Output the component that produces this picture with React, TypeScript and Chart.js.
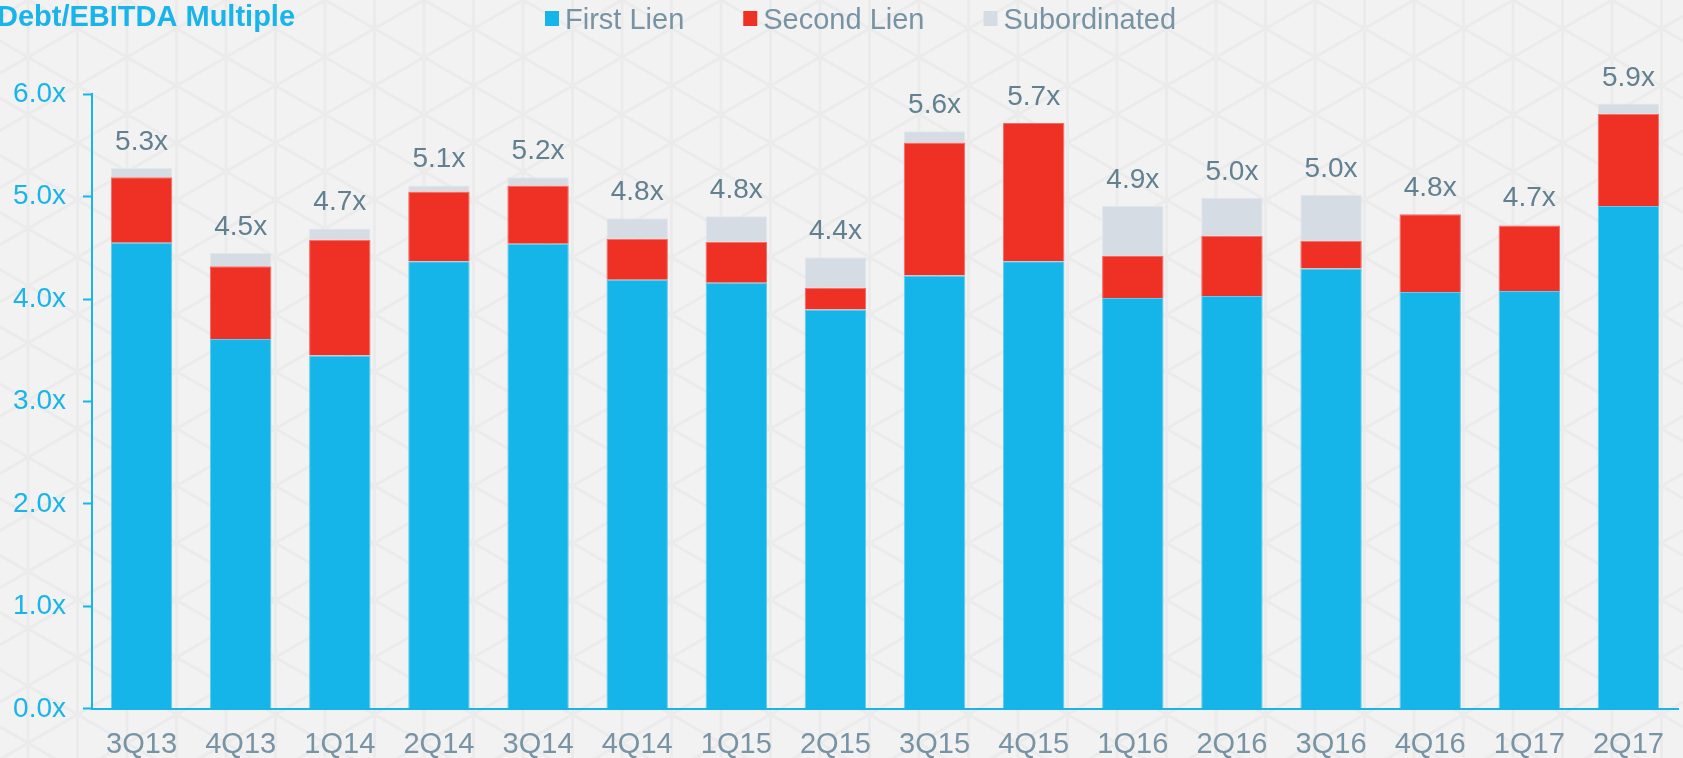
import { useEffect, useRef } from "react";
import { Chart, registerables } from "chart.js";

Chart.register(...registerables);

const categories = ["3Q13", "4Q13", "1Q14", "2Q14", "3Q14", "4Q14", "1Q15", "2Q15", "3Q15", "4Q15", "1Q16", "2Q16", "3Q16", "4Q16", "1Q17", "2Q17"];
const firstLien = [4.55, 3.61, 3.45, 4.37, 4.54, 4.19, 4.16, 3.90, 4.23, 4.37, 4.01, 4.03, 4.30, 4.07, 4.08, 4.91];
const secondLien = [0.64, 0.71, 1.13, 0.68, 0.57, 0.40, 0.40, 0.21, 1.30, 1.35, 0.41, 0.59, 0.27, 0.76, 0.64, 0.90];
const subordinated = [0.09, 0.13, 0.11, 0.06, 0.08, 0.20, 0.25, 0.30, 0.11, 0.0, 0.49, 0.37, 0.45, 0.0, 0.01, 0.10];
const totalLabels = ["5.3x", "4.5x", "4.7x", "5.1x", "5.2x", "4.8x", "4.8x", "4.4x", "5.6x", "5.7x", "4.9x", "5.0x", "5.0x", "4.8x", "4.7x", "5.9x"];
const seriesNames = ["First Lien", "Second Lien", "Subordinated"];
const seriesColors = ["#15b5e9", "#ef3125", "#d5dce3"];
const seriesBorders = ["#5fcdf0", "#f46b62", "#e2e7ec"];
const titleText = "Debt/EBITDA Multiple";

const FONT = "'Liberation Sans', Arial, sans-serif";
const BLUE = "#18b4ea";

const backgroundPlugin = {
  id: "bgPattern",
  beforeDraw(chart: any) {
    const { ctx, width, height } = chart;
    ctx.save();
    ctx.fillStyle = "#f2f2f2";
    ctx.fillRect(0, 0, width, height);
    ctx.strokeStyle = "#ebebeb";
    ctx.lineWidth = 3;
    const h = 49.5;
    const s = (h * 2) / Math.sqrt(3);
    const x0 = 28;
    const t = Math.tan(Math.PI / 6);
    ctx.beginPath();
    for (let x = x0 - h; x < width + h; x += h) {
      ctx.moveTo(x, 0);
      ctx.lineTo(x, height);
    }
    for (let k = -40; k < 60; k++) {
      const c = k * s;
      ctx.moveTo(0, t * (0 - x0) + c);
      ctx.lineTo(width, t * (width - x0) + c);
      ctx.moveTo(0, -t * (0 - x0) + c);
      ctx.lineTo(width, -t * (width - x0) + c);
    }
    ctx.stroke();
    ctx.restore();
  },
};

const labelsPlugin = {
  id: "totals",
  afterDatasetsDraw(chart: any) {
    const { ctx } = chart;
    const last = chart.data.datasets.length - 1;
    const meta = chart.getDatasetMeta(last);
    ctx.save();
    ctx.font = `28px ${FONT}`;
    ctx.fillStyle = "#62808f";
    ctx.textAlign = "center";
    ctx.textBaseline = "alphabetic";
    meta.data.forEach((el: any, i: number) => {
      ctx.fillText(totalLabels[i], el.x, el.y - 18);
    });
    ctx.restore();
  },
};

const headerPlugin = {
  id: "header",
  afterDraw(chart: any) {
    const { ctx } = chart;
    ctx.save();
    ctx.font = `bold 29px ${FONT}`;
    ctx.fillStyle = BLUE;
    ctx.textAlign = "left";
    ctx.textBaseline = "alphabetic";
    ctx.fillText(titleText, -3, 26);

    ctx.font = `29px ${FONT}`;
    let x = 545;
    chart.data.datasets.forEach((ds: any) => {
      ctx.fillStyle = ds.backgroundColor;
      ctx.fillRect(x, 11, 14, 15);
      ctx.fillStyle = "#7893a3";
      ctx.fillText(ds.label, x + 20, 29);
      x += 20 + ctx.measureText(ds.label).width + 59;
    });
    ctx.restore();
  },
};

export default function App() {
  const canvasRef = useRef<HTMLCanvasElement | null>(null);

  useEffect(() => {
    if (!canvasRef.current) return;
    const datasets = [firstLien, secondLien, subordinated].map((d, i) => ({
      label: seriesNames[i],
      data: d,
      backgroundColor: seriesColors[i],
      borderColor: seriesBorders[i],
      borderWidth: 1,
      borderSkipped: "start" as const,
      categoryPercentage: 1,
      barPercentage: 0.62,
    }));
    const chart = new Chart(canvasRef.current, {
      type: "bar",
      data: { labels: categories, datasets },
      options: {
        responsive: false,
        animation: false,
        devicePixelRatio: 1,
        layout: { padding: { top: 94.3, right: 5, left: 0, bottom: 0 } },
        plugins: {
          legend: { display: false },
          title: { display: false },
          tooltip: { enabled: false },
        },
        scales: {
          x: {
            stacked: true,
            grid: { display: false },
            border: { display: true, color: BLUE, width: 2 },
            ticks: {
              color: "#7893a3",
              font: { family: FONT, size: 29 },
              padding: 11,
              maxRotation: 0,
              autoSkip: false,
            },
            afterFit(scale: any) {
              scale.height = 49.2;
            },
          },
          y: {
            stacked: true,
            min: 0,
            max: 6,
            grid: {
              display: true,
              drawOnChartArea: false,
              drawTicks: true,
              tickLength: 9,
              tickColor: BLUE,
              tickWidth: 2,
            },
            border: { display: true, color: BLUE, width: 2 },
            ticks: {
              stepSize: 1,
              color: BLUE,
              font: { family: FONT, size: 28 },
              padding: 17,
              callback: (v: any) => Number(v).toFixed(1) + "x",
            },
            afterFit(scale: any) {
              scale.width = 92;
            },
          },
        },
      },
      plugins: [backgroundPlugin, labelsPlugin, headerPlugin],
    });
    return () => chart.destroy();
  }, []);

  return (
    <div style={{ position: "absolute", left: 0, top: 0, width: 1683, height: 758 }}>
      <canvas ref={canvasRef} width={1683} height={758} />
    </div>
  );
}
